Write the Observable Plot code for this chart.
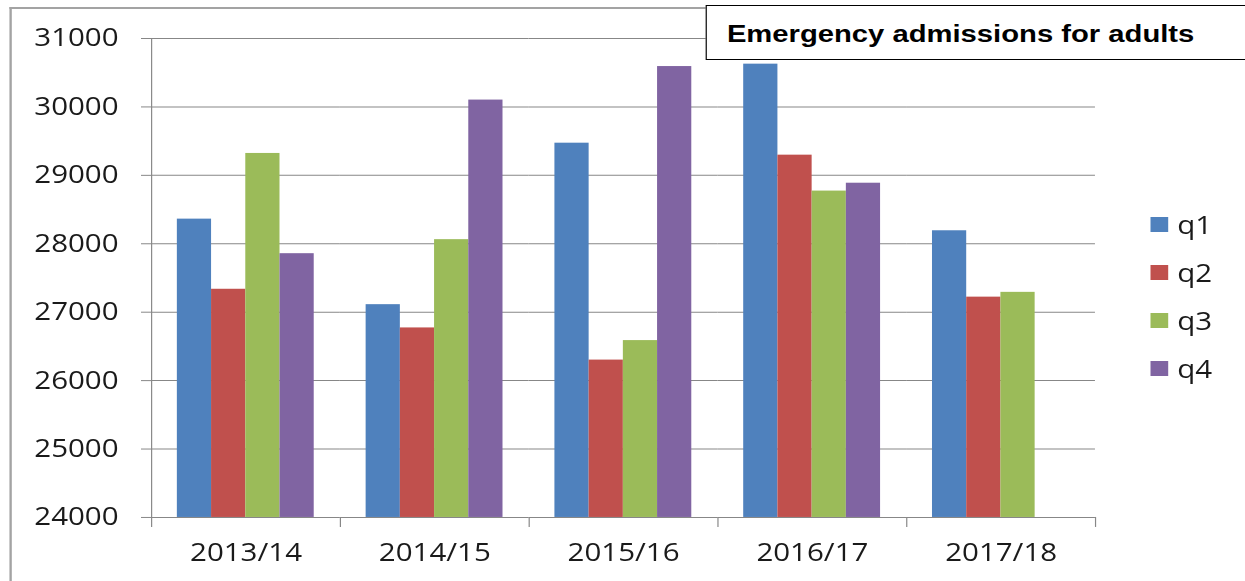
<!DOCTYPE html>
<html>
<head>
<meta charset="utf-8">
<script src="https://cdn.jsdelivr.net/npm/d3@7"></script>
<script src="https://cdn.jsdelivr.net/npm/@observablehq/plot@0.6"></script>
<style>
  html, body { margin: 0; padding: 0; background: #fff; overflow: hidden; }
  #wrap { position: absolute; left: 0; top: 0; width: 1055px; height: 581px; transform: scaleX(1.18); transform-origin: 0 0; }
  #chart { position: absolute; left: 0; top: 0; }
  #outer { position: absolute; left: 8.3px; top: 7px; width: 1200px; height: 700px; border-left: 2.3px solid #a3a3a3; border-top: 2px solid #a3a3a3; box-sizing: border-box; }
  #titlebox { position: absolute; left: 597.5px; top: 5px; width: 600px; height: 55px; border: 1.6px solid #000; background: #fff; box-sizing: border-box; }
  #title { position: absolute; left: 616px; top: 20px; line-height: 24.75px; font: bold 24.75px "Liberation Sans", Arial, sans-serif; color: #000; white-space: nowrap; }
  #legend { position: absolute; left: 974.6px; top: 0; font-family: "Open Sans", sans-serif; font-size: 25px; color: #1a1a1a; }
  .item { position: absolute; left: 0; white-space: nowrap; }
  .sw { position: absolute; left: 0; width: 15.3px; height: 15px; }
  .lb { position: absolute; left: 23px; top: -17px; line-height: 49px; }
</style>
</head>
<body>
<div id="wrap">
  <div id="chart"></div>
  <div id="outer"></div>
  <div id="titlebox"></div>
  <div id="title"></div>
  <div id="legend"></div>
</div>
<script>
const titleText = "Emergency admissions for adults";
const years = ["2013/14", "2014/15", "2015/16", "2016/17", "2017/18"];
const quarters = ["q1", "q2", "q3", "q4"];
const q1 = [28360, 27110, 29470, 30625, 28190];
const q2 = [27335, 26770, 26300, 29295, 27220];
const q3 = [29320, 28060, 26585, 28770, 27290];
const q4 = [27855, 30100, 30590, 28885, null];
const colors = ["#4F81BD", "#C0504D", "#9BBB59", "#8064A2"];
const yTicks = [24000, 25000, 26000, 27000, 28000, 29000, 30000, 31000];

const series = [q1, q2, q3, q4];
const data = years.flatMap((yr, i) =>
  series.map((s, j) => ({year: yr, q: quarters[j], value: s[i]}))
).filter(d => d.value != null);

const S = 1.18;
const W = 1245 / S, H = 581;
const ML = 150 / S, MR = (1245 - 1095) / S, MT = 38, MB = 64;
const innerH = H - MT - MB;
const gridColor = "#878787";

const chart = Plot.plot({
  width: W,
  height: H,
  marginLeft: ML,
  marginRight: MR,
  marginTop: MT,
  marginBottom: MB,
  style: {fontFamily: "'Open Sans', sans-serif", fontSize: "25px", color: "#1a1a1a", background: "transparent", overflow: "visible"},
  fx: {domain: years, padding: 0, label: null, axis: null},
  x: {domain: quarters, paddingInner: 0, paddingOuter: 0.74, axis: null},
  y: {domain: [yTicks[0], yTicks[yTicks.length - 1]], label: null, axis: null},
  color: {domain: quarters, range: colors},
  marks: [
    Plot.gridY(yTicks, {stroke: gridColor, strokeOpacity: 1, strokeWidth: 1}),
    Plot.frame({anchor: "left", facetAnchor: "left", insetBottom: -9, stroke: gridColor}),
    Plot.frame({anchor: "right", insetTop: innerH, insetBottom: -9, stroke: gridColor}),
    Plot.barY(data, {fx: "year", x: "q", y1: yTicks[0], y2: "value", fill: "q"}),
    Plot.axisY(yTicks, {tickSize: 8.5, tickPadding: 19.5, stroke: gridColor, fill: "#1a1a1a", tickFormat: d => String(d), label: null}),
    Plot.axisFx({anchor: "bottom", tickSize: 0, tickPadding: 26, fill: "#1a1a1a", label: null})
  ]
});
document.getElementById("chart").appendChild(chart);

document.getElementById("title").textContent = titleText;

const legend = d3.select("#legend");
const legendTops = quarters.map((q, i) => 217 + i * 48);
quarters.forEach((q, i) => {
  const item = legend.append("div").attr("class", "item").style("top", legendTops[i] + "px");
  item.append("div").attr("class", "sw").style("background", colors[i]);
  item.append("div").attr("class", "lb").text(q);
});
</script>
</body>
</html>
